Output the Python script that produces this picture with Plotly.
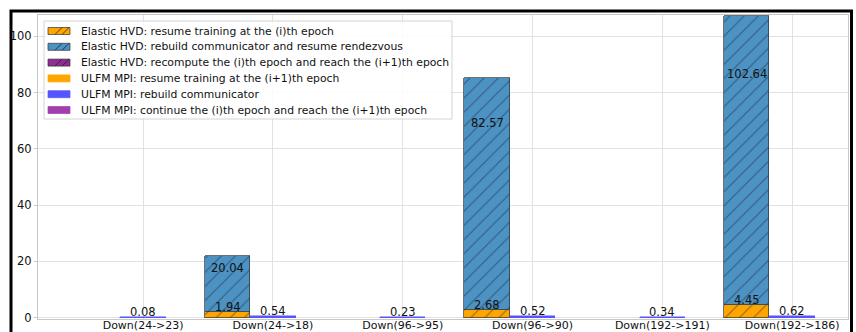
import numpy as np
import plotly.graph_objects as go

# ---- data -------------------------------------------------------------
categories = ['Down(24->23)', 'Down(24->18)', 'Down(96->95)',
              'Down(96->90)', 'Down(192->191)', 'Down(192->186)']

hvd_resume = [0, 1.94, 0, 2.68, 0, 4.45]
hvd_rebuild = [0, 20.04, 0, 82.57, 0, 102.64]
hvd_recompute = [0, 0, 0, 0, 0, 0]

ulfm_resume = [0, 0, 0, 0, 0, 0]
ulfm_rebuild = [0.08, 0.54, 0.23, 0.52, 0.34, 0.62]
ulfm_continue = [0, 0, 0, 0, 0, 0]

y_ticks = [0, 20, 40, 60, 80, 100]

legend_labels = [
    'Elastic HVD: resume training at the (i)th epoch',
    'Elastic HVD: rebuild communicator and resume rendezvous',
    'Elastic HVD: recompute the (i)th epoch and reach the (i+1)th epoch',
    'ULFM MPI: resume training at the (i+1)th epoch',
    'ULFM MPI: rebuild communicator',
    'ULFM MPI: continue the (i)th epoch and reach the (i+1)th epoch',
]

# ---- styling ----------------------------------------------------------
FONT = 'DejaVu Sans'
TXT = '#111111'
BAR_W = 0.35
HVD_COLORS = ['#FFA500', '#4C92C3', '#912C91']
ULFM_COLORS = ['#FFA500', '#5555FF', '#A23FAF']
HATCH = dict(shape='/', fgcolor='#1c2233', size=10, solidity=0.1,
             fillmode='overlay')
EDGE = '#333333'

W, H = 856, 332
ML, MR, MT, MB = 38, 8, 15, 13
PW, PH = W - ML - MR, H - MT - MB


def px(x):
    return (x - ML) / PW


def py(y):
    return (MT + PH - y) / PH


idx = np.arange(len(categories))
x_hvd = idx - BAR_W
x_ulfm = idx

fig = go.Figure()

hvd_series = [hvd_resume, hvd_rebuild, hvd_recompute]
ulfm_series = [ulfm_resume, ulfm_rebuild, ulfm_continue]

for vals, col in zip(hvd_series, HVD_COLORS):
    edge_w = [0.7 if v > 0 else 0 for v in vals]
    fig.add_trace(go.Bar(
        x=x_hvd, y=vals, width=BAR_W, showlegend=False,
        marker=dict(color=col, line=dict(color=EDGE, width=edge_w),
                    pattern=HATCH),
        hoverinfo='skip'))

for vals, col in zip(ulfm_series, ULFM_COLORS):
    edge_w = [0.5 if v > 0 else 0 for v in vals]
    fig.add_trace(go.Bar(
        x=x_ulfm, y=vals, width=BAR_W, showlegend=False,
        marker=dict(color=col, line=dict(color=col, width=edge_w)),
        hoverinfo='skip'))

# ---- value labels -----------------------------------------------------
annotations = []


def value_label(x, y, v, shift):
    annotations.append(dict(
        x=x, y=y, xref='x', yref='y', text=f'{v:.2f}', showarrow=False,
        yanchor='middle', xanchor='center', yshift=shift,
        font=dict(family=FONT, size=11.5, color=TXT)))


for i in idx:
    if hvd_resume[i] > 0:
        value_label(x_hvd[i], hvd_resume[i], hvd_resume[i], 5)
    if hvd_rebuild[i] > 0:
        top = hvd_resume[i] + hvd_rebuild[i]
        value_label(x_hvd[i], 0.81 * top, hvd_rebuild[i], 0)
    if ulfm_rebuild[i] > 0:
        value_label(x_ulfm[i], ulfm_rebuild[i], ulfm_rebuild[i], 5)

# ---- legend (drawn by hand for tight row spacing) ---------------------
shapes = []
leg_x0, leg_x1, leg_y0, leg_y1 = 44, 452, 21, 119
shapes.append(dict(type='rect', xref='paper', yref='paper',
                   x0=px(leg_x0), x1=px(leg_x1), y0=py(leg_y1), y1=py(leg_y0),
                   line=dict(color='#d4d4d4', width=1),
                   fillcolor='rgba(255,255,255,0.85)', layer='above'))

row0, step = 31, 15.8
patch_l, patch_r, patch_h = 48, 70, 7
legend_colors = HVD_COLORS + ULFM_COLORS
for k, (lab, col) in enumerate(zip(legend_labels, legend_colors)):
    yc = row0 + k * step
    top, bot = yc - patch_h / 2, yc + patch_h / 2
    hatched = k < 3
    shapes.append(dict(type='rect', xref='paper', yref='paper',
                       x0=px(patch_l), x1=px(patch_r), y0=py(bot), y1=py(top),
                       fillcolor=col,
                       line=dict(color=EDGE if hatched else col, width=0.7),
                       layer='above'))
    if hatched:
        for off in (7, 14):
            shapes.append(dict(type='line', xref='paper', yref='paper',
                               x0=px(patch_l + off), y0=py(bot),
                               x1=px(patch_l + off + patch_h), y1=py(top),
                               line=dict(color='#1c2233', width=0.8),
                               layer='above'))
    annotations.append(dict(
        x=px(79), y=py(yc), xref='paper', yref='paper', text=lab,
        showarrow=False, xanchor='left', yanchor='middle',
        font=dict(family=FONT, size=10.8, color=TXT)))

# outer figure frame
shapes.append(dict(type='rect', xref='paper', yref='paper',
                   x0=px(11), x1=px(851.5), y0=py(345), y1=py(11),
                   line=dict(color='black', width=3), layer='above'))

fig.update_layout(
    width=W, height=H,
    margin=dict(l=ML, r=MR, t=MT, b=MB),
    paper_bgcolor='white', plot_bgcolor='white',
    barmode='stack', bargap=0,
    font=dict(family=FONT, size=11, color=TXT),
    shapes=shapes, annotations=annotations,
    xaxis=dict(range=[-0.81, 5.43], tickmode='array', tickvals=idx,
               ticktext=categories, showgrid=True, gridcolor='#e2e2e2',
               gridwidth=1, showline=True, mirror=True, linecolor='#c8c8c8',
               linewidth=1, ticks='', zeroline=False, automargin=False,
               ticklabelstandoff=-4,
               tickfont=dict(family=FONT, size=11, color=TXT)),
    yaxis=dict(range=[-0.5, 107.6], tickmode='array', tickvals=y_ticks,
               showgrid=True, gridcolor='#e2e2e2', gridwidth=1,
               showline=True, mirror=True, linecolor='#c8c8c8', linewidth=1,
               ticks='outside', ticklen=3, tickcolor='#c8c8c8',
               zeroline=False, automargin=False,
               tickfont=dict(family=FONT, size=11.5, color=TXT)),
)

fig.write_html('out.html')
